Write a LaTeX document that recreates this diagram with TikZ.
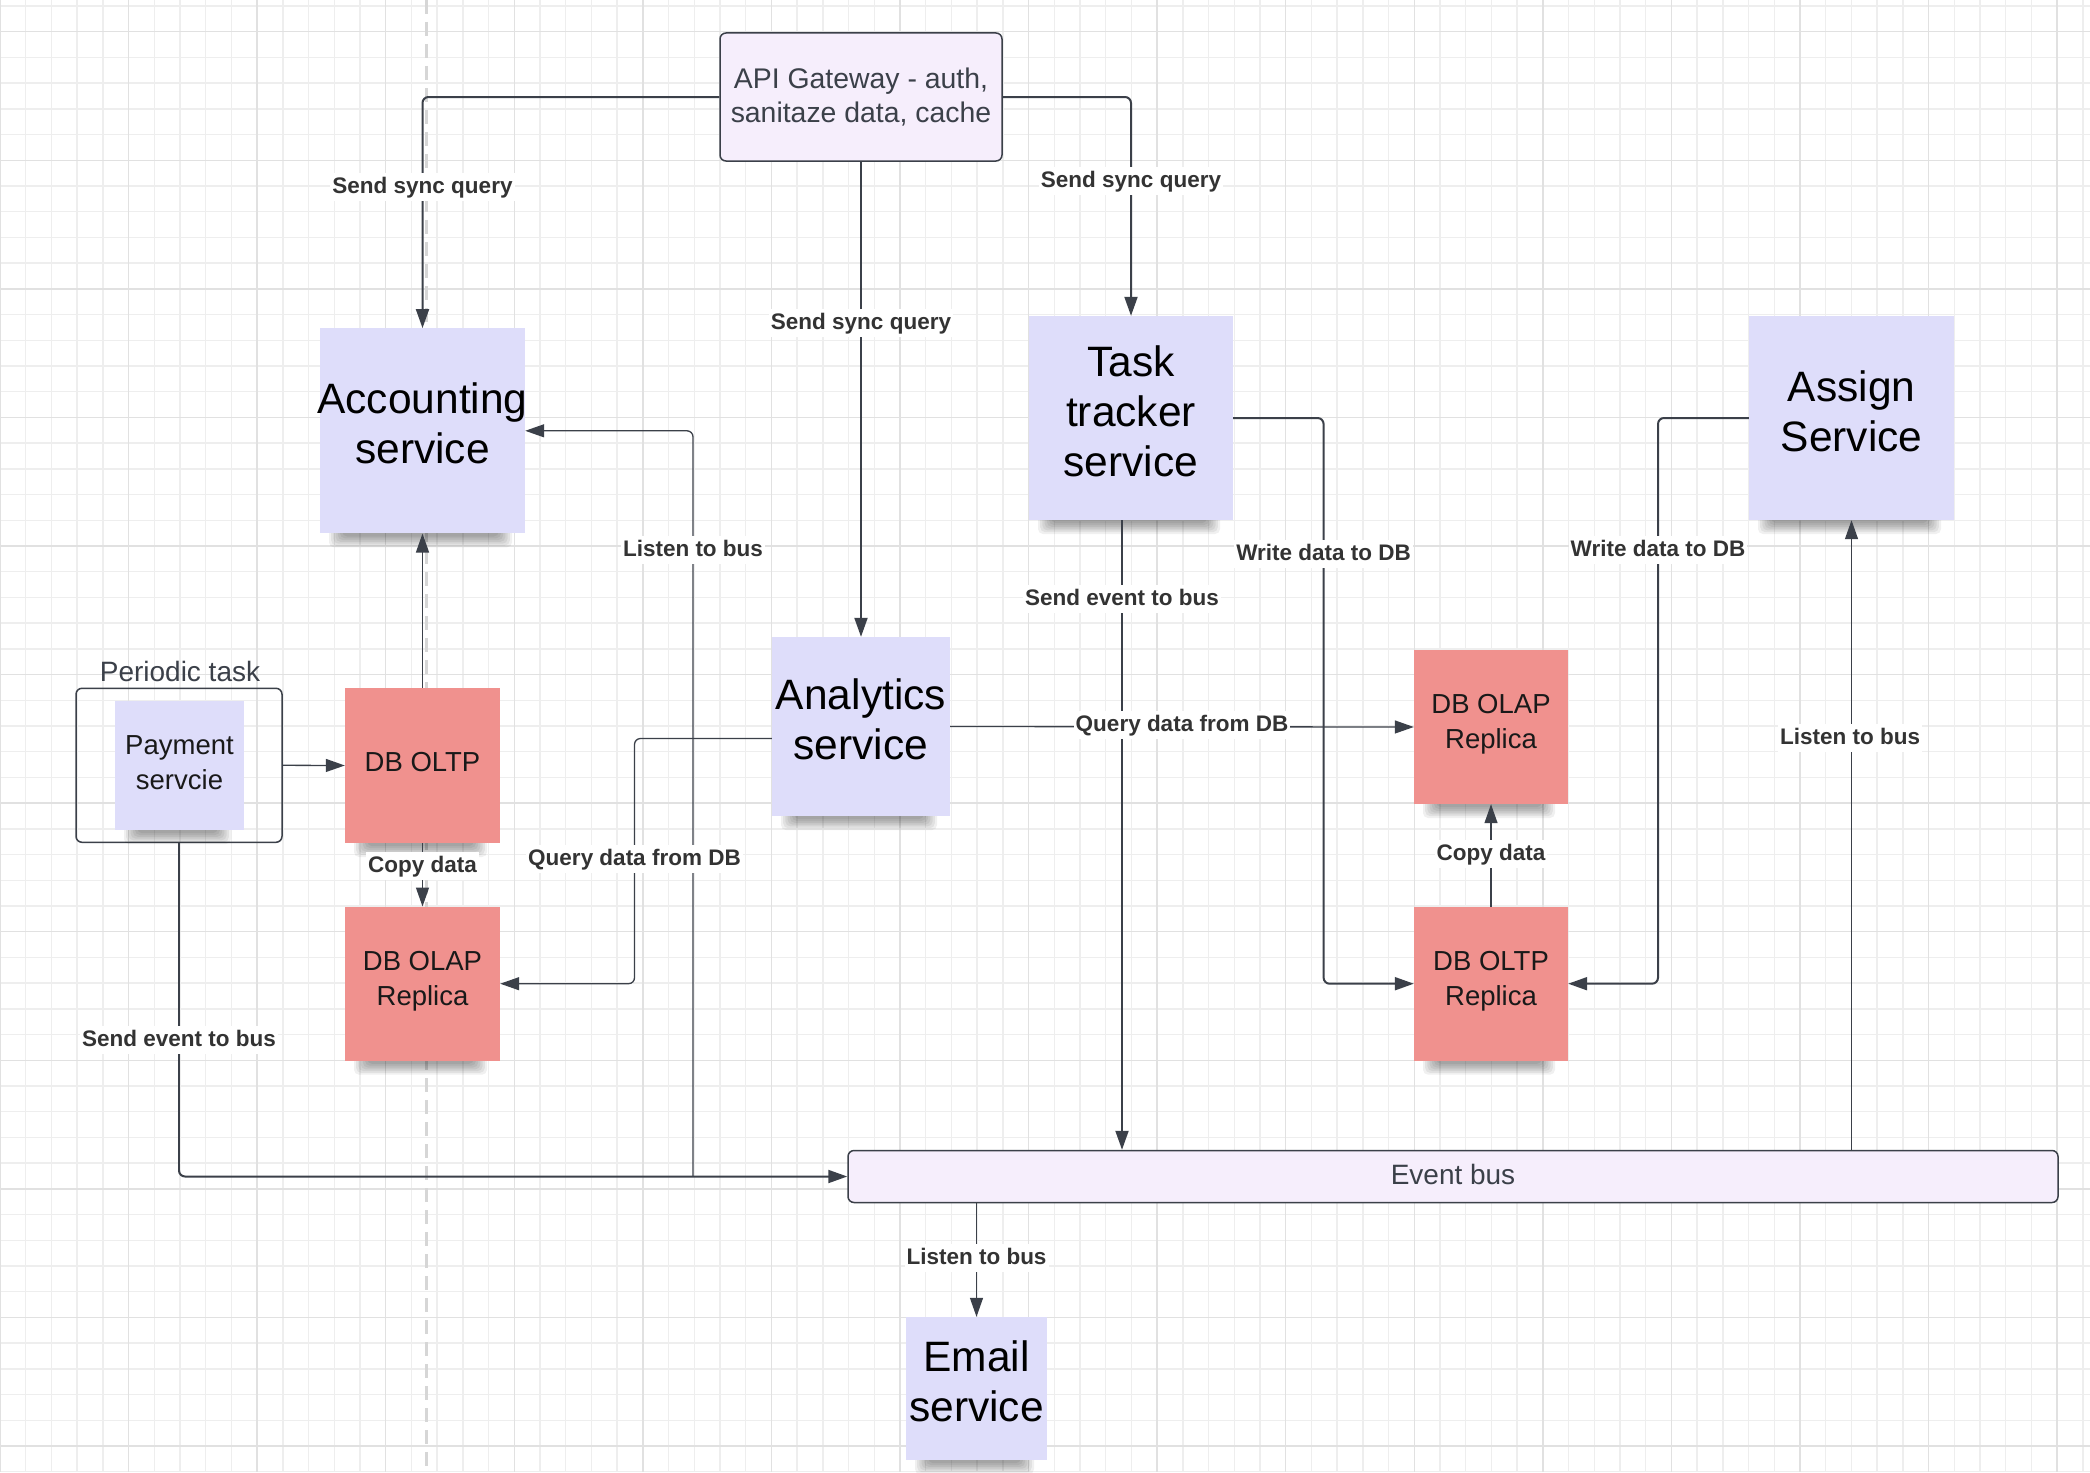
\documentclass[tikz,border=0pt]{standalone}
\usepackage{fontspec}
\setmainfont{Liberation Sans}
\usetikzlibrary{arrows.meta,calc}

\definecolor{svcfill}{HTML}{DEDDFA}
\definecolor{dbfill}{HTML}{F0918E}
\definecolor{gwfill}{HTML}{F6EEFC}
\definecolor{edge}{HTML}{3B4049}
\definecolor{lbltext}{HTML}{333333}
\definecolor{gridminor}{HTML}{EEEEEE}
\definecolor{gridmajor}{HTML}{E1E1E1}
\definecolor{guide}{HTML}{D6D6D6}

% text wider than its note spills over both edges
\newcommand\spill[1]{\makebox[0pt]{#1}}

% sticky note: soft shadow under its lower edge, then the note itself
% #1 name, #2 style, #3 cx, #4 cy, #5 width, #6 height
\newcommand\stickynote[6]{%
  \foreach \s in {0,...,6} {%
    \fill[black, opacity=0.06, rounded corners=5pt]
      ({#3-#5/2+9+2.2*\s},{#4+#6/2-6}) rectangle ({#3+#5/2-13-2.2*\s},{#4+#6/2+14-1.8*\s});}
  \node[#2, minimum width=#5pt, minimum height=#6pt] (#1) at (#3,#4) {};}

\begin{document}
\begin{tikzpicture}[x=1pt,y=-1pt,
  bigtext/.style={font=\fontsize{42.5}{50}\selectfont, text=black, align=center},
  midtext/.style={font=\fontsize{27.5}{35}\selectfont, text=black!90, align=center},
  svcnote/.style={rectangle, fill=svcfill, inner sep=0pt},
  dbnote/.style={rectangle, fill=dbfill, inner sep=0pt},
  framed/.style={rectangle, draw=edge, line width=1.5pt, rounded corners=6pt,
    fill=gwfill, inner sep=0pt, align=center, text=edge},
  lbl/.style={anchor=base, fill=white, inner xsep=2pt, inner ysep=3pt,
    text height=17pt, text depth=5pt, text=lbltext,
    font=\fontsize{22.5}{27}\selectfont\bfseries},
  tip/.style={-{Triangle[length=19pt,width=13pt]}},
  thick conn/.style={draw=edge, line width=2pt, rounded corners=6pt},
  thin conn/.style={draw=edge, line width=1.3pt, rounded corners=6pt},
]
% page and background grid
\useasboundingbox (0,0) rectangle (2090,1472);
\fill[white] (0,0) rectangle (2090,1472);
\foreach \i in {0,...,81} {\draw[gridminor, line width=1.3pt] (\i*25.714,0) -- (\i*25.714,1472);}
\foreach \k in {0,...,57} {\draw[gridminor, line width=1.3pt] (0,6+\k*25.714) -- (2090,6+\k*25.714);}
\foreach \i in {0,...,16} {\draw[gridmajor, line width=1.5pt] (\i*128.57,0) -- (\i*128.57,1472);}
\foreach \k in {0,...,11} {\draw[gridmajor, line width=1.5pt] (0,31.7+\k*128.57) -- (2090,31.7+\k*128.57);}
\draw[guide, line width=3pt, dash pattern=on 14pt off 8pt] (426.5,0) -- (426.5,1472);

% boxes
\node[framed, minimum width=282pt, minimum height=128pt,
  font=\fontsize{28.4}{34.3}\selectfont] (api) at (861,97)
  {API Gateway - auth,\\sanitaze data, cache};

\stickynote{acc}{svcnote}{422.5}{430.8}{205}{205}
\stickynote{task}{svcnote}{1131}{418}{204}{204}
\stickynote{assign}{svcnote}{1851.5}{418}{205}{204}
\stickynote{analytics}{svcnote}{861}{726.5}{178}{179}
\stickynote{email}{svcnote}{976.5}{1388.5}{141}{143}
\node[rectangle, draw=edge, line width=1.5pt, rounded corners=6pt,
  minimum width=206pt, minimum height=154pt] (periodic) at (179,765.3) {};
\stickynote{payment}{svcnote}{179.5}{765.5}{129}{129}
\stickynote{oltp}{dbnote}{422.5}{765.5}{155}{155}
\stickynote{olapL}{dbnote}{422.5}{983.7}{155}{154}
\stickynote{olapR}{dbnote}{1491}{727}{154}{154}
\stickynote{oltpR}{dbnote}{1491}{983.7}{154}{154}
\node[framed, minimum width=1210pt, minimum height=52pt,
  font=\fontsize{28}{34}\selectfont] (bus) at (1453,1176.5) {\raisebox{5pt}{Event bus}};

% texts on the notes
\node[bigtext] (acc-text) at ([yshift=7pt]acc.center) {\spill{Accounting}\\service};
\node[bigtext] (task-text) at ([yshift=7pt]task.center) {Task\\tracker\\service};
\node[bigtext] (assign-text) at ([yshift=7pt]assign.center) {Assign\\Service};
\node[bigtext] (analytics-text) at ([yshift=7pt]analytics.center) {Analytics\\service};
\node[bigtext] (email-text) at ([yshift=7pt]email.center) {Email\\service};
\node[midtext] (payment-text) at ([yshift=3pt]payment.center) {Payment\\servcie};
\node[midtext] (oltp-text) at ([yshift=3pt]oltp.center) {DB OLTP};
\node[midtext] (olapL-text) at ([yshift=2pt]olapL.center) {DB OLAP\\Replica};
\node[midtext] (olapR-text) at ([yshift=3pt]olapR.center) {DB OLAP\\Replica};
\node[midtext] (oltpR-text) at ([yshift=2pt]oltpR.center) {DB OLTP\\Replica};
\node[anchor=base, font=\fontsize{28}{34}\selectfont, text=edge] (periodic-text) at (180,681) {Periodic task};

% connector bend points
\coordinate (busjoin) at (693,1176.5);
\coordinate (paybend) at (179,1176.5);
\coordinate (qbend) at (634.5,738.5);
\coordinate (tbend) at (1323.6,418);
\coordinate (abend) at (1658,418);
\coordinate (tevent) at ([xshift=-9pt]task.south);

% connectors
\draw[thick conn, tip] (api.west) -| (acc.north);
\draw[thick conn, tip] (api.east) -| (task.north);
\draw[thick conn, tip] (api.south) -- (analytics.north);
\draw[thin conn, tip] (oltp.north) -- (acc.south);
\draw[thin conn, tip] (periodic.east) -- (oltp.west);
\draw[thin conn, tip] (oltp.south) -- (olapL.north);
\draw[thin conn] (periodic.south) -- ([yshift=6pt]paybend);
\draw[thick conn, tip] ([yshift=6pt]paybend) |- (bus.west);
\draw[thin conn, tip] (busjoin) |- (acc.east);
\draw[thin conn, tip] ([yshift=-12pt]analytics.west) -- (qbend) |- (olapL.east);
\draw[thin conn, tip] (analytics.east) -- (olapR.west);
\draw[thick conn, tip] (tevent) -- (tevent |- bus.north);
\draw[thick conn, tip] (task.east) -- (tbend) |- (oltpR.west);
\draw[thick conn, tip] (assign.west) -- (abend) |- (oltpR.east);
\draw[thin conn, tip] (oltpR.north) -- (olapR.south);
\draw[thin conn, tip] (assign.south |- bus.north) -- (assign.south);
\draw[thin conn, tip] (email.north |- bus.south) -- (email.north);

% connector labels
\node[lbl] (l-syncacc) at (422.5,193) {Send sync query};
\node[lbl] (l-synctask) at (1131,187) {Send sync query};
\node[lbl] (l-syncana) at (861,329) {Send sync query};
\node[lbl] (l-listenacc) at (693,556) {Listen to bus};
\node[lbl] (l-copyL) at (422.5,872) {Copy data};
\node[lbl] (l-queryL) at (634.5,865) {Query data from DB};
\node[lbl] (l-queryR) at (1182,731) {Query data from DB};
\node[lbl] (l-eventtask) at (1122,605) {Send event to bus};
\node[lbl] (l-writeT) at (1323.6,560) {Write data to DB};
\node[lbl] (l-writeA) at (1658,556) {Write data to DB};
\node[lbl] (l-copyR) at (1491,860) {Copy data};
\node[lbl] (l-listenassign) at (1850,744) {Listen to bus};
\node[lbl] (l-eventpay) at (179,1046) {Send event to bus};
\node[lbl] (l-listenemail) at (976.5,1264) {Listen to bus};
\end{tikzpicture}
\end{document}
